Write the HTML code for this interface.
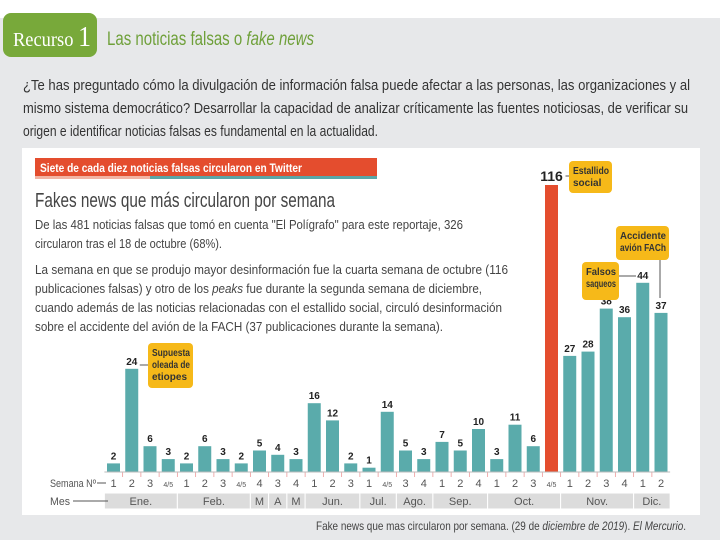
<!DOCTYPE html>
<html><head><meta charset="utf-8"><style>
body{margin:0;width:720px;height:540px;overflow:hidden;background:#fff}
svg{display:block;font-family:"Liberation Sans",sans-serif}
</style></head><body>
<svg id="s" width="720" height="540" viewBox="0 0 720 540">
<rect x="0" y="18" width="720" height="522" fill="#e7e8ea"/>
<rect x="3" y="13" width="94" height="44" rx="8" fill="#78a93a"/>
<text x="13" y="46" font-family="Liberation Serif" font-size="20" fill="#fff" textLength="78" lengthAdjust="spacingAndGlyphs">Recurso <tspan font-size="28">1</tspan></text>
<text x="107" y="45" font-size="19" fill="#6fa03a" textLength="207" lengthAdjust="spacingAndGlyphs">Las noticias falsas o <tspan font-style="italic">fake news</tspan></text>
<g font-size="15" fill="#333">
<text x="23" y="90" textLength="667" lengthAdjust="spacingAndGlyphs">¿Te has preguntado cómo la divulgación de información falsa puede afectar a las personas, las organizaciones y al</text>
<text x="23" y="113" textLength="665" lengthAdjust="spacingAndGlyphs">mismo sistema democrático? Desarrollar la capacidad de analizar críticamente las fuentes noticiosas, de verificar su</text>
<text x="23" y="136" textLength="355" lengthAdjust="spacingAndGlyphs">origen e identificar noticias falsas es fundamental en la actualidad.</text>
</g>
<rect x="22" y="148" width="678" height="367" fill="#fff"/>
<rect x="35" y="158" width="342" height="18" fill="#e44d2e"/>
<rect x="150" y="176" width="227" height="3" fill="#5aa6a7"/>
<rect x="35" y="176" width="115" height="3" fill="#f1b4a4"/>
<text x="40" y="172" font-size="12" font-weight="bold" fill="#fff" textLength="262" lengthAdjust="spacingAndGlyphs">Siete de cada diez noticias falsas circularon en Twitter</text>
<text x="35" y="207" font-size="20" fill="#444" textLength="300" lengthAdjust="spacingAndGlyphs">Fakes news que más circularon por semana</text>
<g font-size="13" fill="#444">
<text x="35" y="229" textLength="428" lengthAdjust="spacingAndGlyphs">De las 481 noticias falsas que tomó en cuenta "El Polígrafo" para este reportaje, 326</text>
<text x="35" y="248" textLength="187" lengthAdjust="spacingAndGlyphs">circularon tras el 18 de octubre (68%).</text>
<text x="35" y="274" textLength="473" lengthAdjust="spacingAndGlyphs">La semana en que se produjo mayor desinformación fue la cuarta semana de octubre (116</text>
<text x="35" y="293" textLength="447" lengthAdjust="spacingAndGlyphs">publicaciones falsas) y otro de los <tspan font-style="italic">peaks</tspan> fue durante la segunda semana de diciembre,</text>
<text x="35" y="312" textLength="467" lengthAdjust="spacingAndGlyphs">cuando además de las noticias relacionadas con el estallido social, circuló desinformación</text>
<text x="35" y="331" textLength="408" lengthAdjust="spacingAndGlyphs">sobre el accidente del avión de la FACH (37 publicaciones durante la semana).</text>
</g>
<g id="chart"></g>
<text x="316" y="530" font-size="12" fill="#444" textLength="370" lengthAdjust="spacingAndGlyphs">Fake news que mas circularon por semana. (29 de <tspan font-style="italic">diciembre de 2019</tspan>). <tspan font-style="italic">El Mercurio</tspan>.</text>
</svg>
<script>
const weeks=["1","2","3","4/5","1","2","3","4/5","4","3","4","1","2","3","1","4/5","3","4","1","2","4","1","2","3","4/5","1","2","3","4","1","2"];
const values=[2,24,6,3,2,6,3,2,5,4,3,16,12,2,1,14,5,3,7,5,10,3,11,6,116,27,28,38,36,44,37];
const months=["Ene.","Feb.","M","A","M","Jun.","Jul.","Ago.","Sep.","Oct.","Nov.","Dic."];
const monthCounts=[4,4,1,1,1,3,2,2,3,4,4,2];
const highlight=24;
const NS="http://www.w3.org/2000/svg";
const g=document.getElementById('chart');
const x0=113.5,step=18.25,bw=13,base=472,ppu=4.3,cap=287;
const xs=i=>x0+i*step;
const ys=v=>base-Math.min(v*ppu,cap);
function mk(t,a,p){const e=document.createElementNS(NS,t);for(const k in a)e.setAttribute(k,a[k]);(p||g).appendChild(e);return e;}
let idx=0;
monthCounts.forEach((c,m)=>{
  const xa=xs(idx)-step/2,xb=xs(idx+c-1)+step/2;
  const r=mk('rect',{x:xa,y:493,width:xb-xa,height:16,fill:'#dcdcdc',stroke:'#fff','stroke-width':1});
  
  
  const t=mk('text',{x:(xa+xb)/2,y:505,'font-size':11,fill:'#555','text-anchor':'middle'});
  t.textContent=months[m];
  
  
  idx+=c;
});
values.forEach((v,i)=>{
  const x=xs(i),y=ys(v);
  const b=mk('rect',{x:x-bw/2,y:y,width:bw,height:base-y,fill:i===highlight?'#e44d2e':'#5aabab'});
  
  
  const l=mk('text',{x:x,y:y-4,'font-size':i===highlight?14:10,'font-weight':'bold',fill:'#222','text-anchor':'middle'});
  l.textContent=v;
  
  
  const w=mk('text',{x:x,y:487,'font-size':weeks[i]==='4/5'?7:11,fill:'#555','text-anchor':'middle'});
  w.textContent=weeks[i];
  
  
  if(i>0){const tk=mk('line',{x1:x-step/2,x2:x-step/2,y1:472,y2:477,stroke:'#e99','stroke-width':0.8});
  
  }
});
const ax=mk('line',{x1:xs(0)-step/2,x2:xs(values.length-1)+step/2,y1:base,y2:base,stroke:'#bbb','stroke-width':1});


const s1=mk('text',{x:50,y:487,'font-size':11,fill:'#555',textLength:46,lengthAdjust:'spacingAndGlyphs'});s1.textContent='Semana Nº';


const a1=mk('line',{x1:97,y1:483,x2:106,y2:483,stroke:'#555','stroke-width':1});


const s2=mk('text',{x:50,y:505,'font-size':11,fill:'#555',textLength:20,lengthAdjust:'spacingAndGlyphs'});s2.textContent='Mes';


const a2=mk('line',{x1:73,y1:501,x2:108,y2:501,stroke:'#555','stroke-width':1});


function note(name,bx,by,w,h,lines,lx1,ly1,lx2,ly2){
  const gg=mk('g',{});
  
  
  mk('line',{x1:lx1,y1:ly1,x2:lx2,y2:ly2,stroke:'#555','stroke-width':1},gg);
  mk('rect',{x:bx,y:by,width:w,height:h,rx:4,fill:'#f6b919'},gg);
  lines.forEach((t,k)=>{
    const e=mk('text',{x:bx+4,y:by+13+k*12,'font-size':10,'font-weight':'bold',fill:'#333'},gg);
    e.textContent=t;
    const len=e.getComputedTextLength();
    if(len>w-7){e.setAttribute('textLength',w-7);e.setAttribute('lengthAdjust','spacingAndGlyphs');}
  });
}
note('annotation-etiopes',148,343,45,45,['Supuesta','oleada de','etiopes'],xs(1)+8,365,148,365);
note('annotation-estallido',569,161,43,32,['Estallido','social'],xs(24)+14,176,569,176);
note('annotation-accidente',616,226,53,34,['Accidente','avión FACh'],660,260,660,298);
note('annotation-saqueos',582,262,37,38,['Falsos','saqueos'],619,276,636,276);
</script>
</body></html>
